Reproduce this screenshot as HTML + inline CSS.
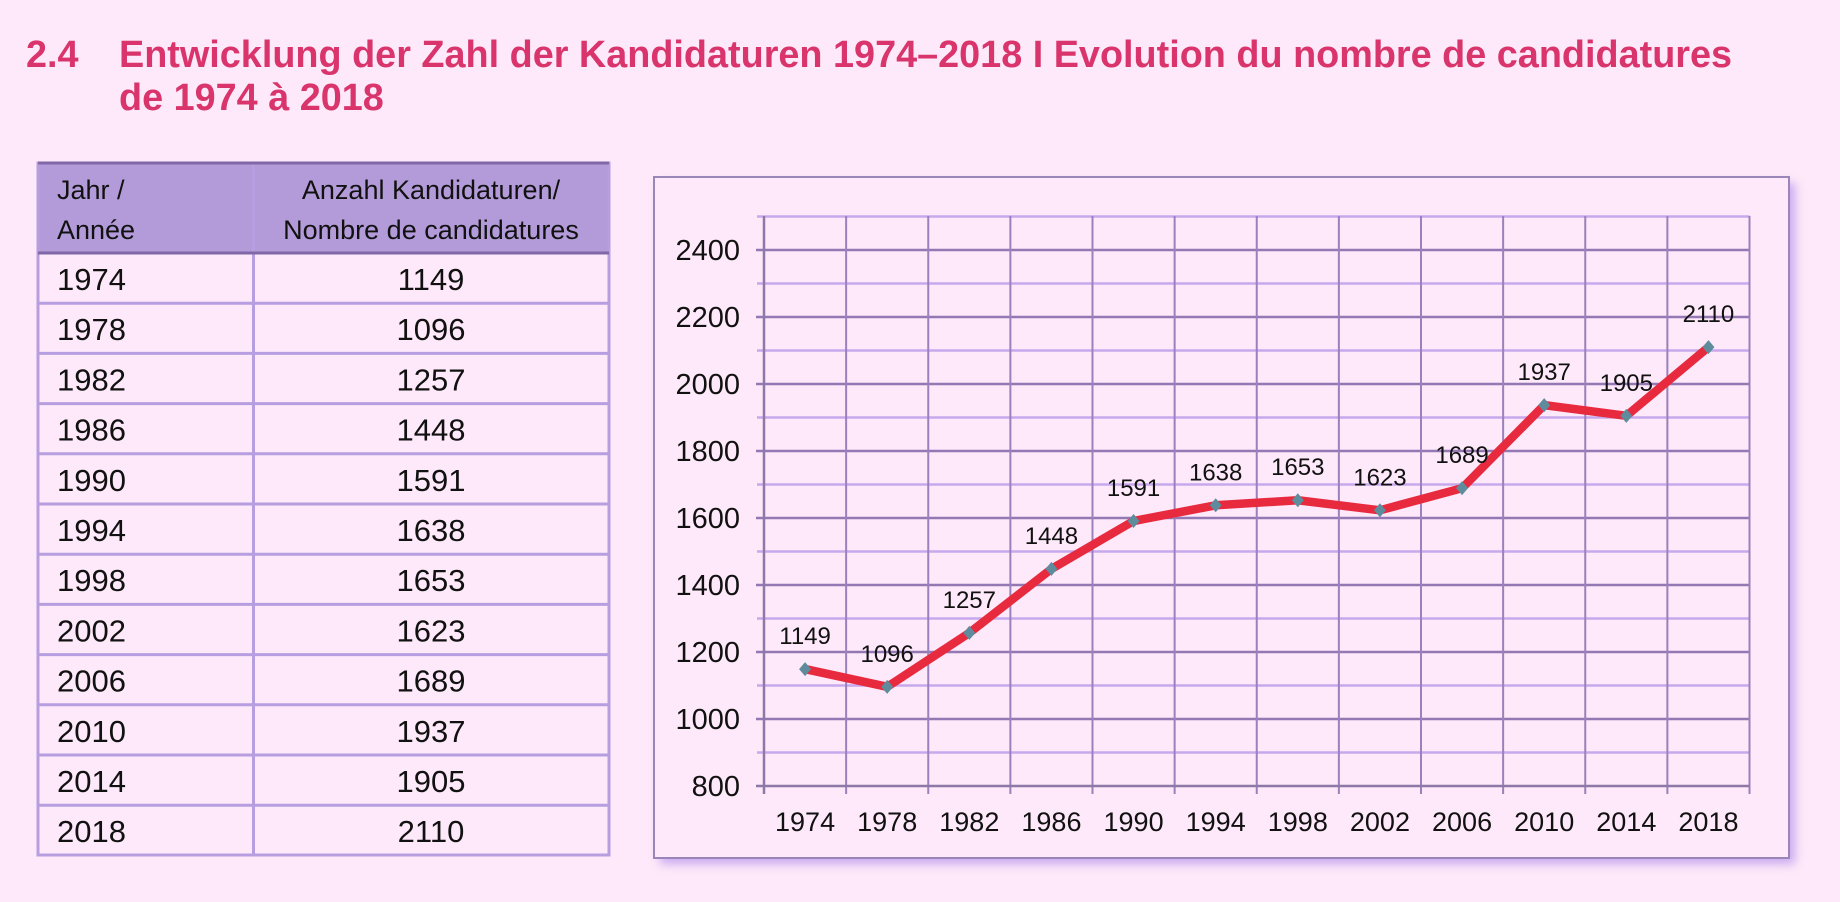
<!DOCTYPE html>
<html><head><meta charset="utf-8"><style>
html,body{margin:0;padding:0;background:#fde9f9;}
svg{display:block;font-family:"Liberation Sans",Arial,sans-serif;}
</style></head><body>
<svg width="1840" height="902" viewBox="0 0 1840 902" xmlns="http://www.w3.org/2000/svg">
<defs>
<filter id="sh" x="-5%" y="-5%" width="112%" height="112%"><feGaussianBlur stdDeviation="5"/></filter>
</defs>
<rect width="1840" height="902" fill="#fde9f9"/>
<g fill="#d9356c" font-weight="bold" font-size="37.8">
<text x="26" y="67">2.4</text>
<text x="119" y="67">Entwicklung der Zahl der Kandidaturen 1974–2018 I Evolution du nombre de candidatures</text>
<text x="119" y="110">de 1974 à 2018</text>
</g>
<rect x="38" y="163" width="571" height="90" fill="#b39bd9"/>
<g stroke="#b79ee0" stroke-width="3" fill="none">
<rect x="38" y="163" width="571" height="692"/>
<line x1="253.5" y1="163" x2="253.5" y2="855"/>
</g>
<g stroke="#8068a8" stroke-width="3"><line x1="38" y1="163" x2="609" y2="163"/><line x1="38" y1="253" x2="609" y2="253"/></g>
<g stroke="#b79ee0" stroke-width="3" id="rows"></g>
<g font-size="27" fill="#111">
<text x="57" y="199">Jahr /</text><text x="57" y="239">Année</text>
<text x="431" y="199" text-anchor="middle">Anzahl Kandidaturen/</text>
<text x="431" y="239" text-anchor="middle">Nombre de candidatures</text>
</g>
<g id="tbl" font-size="31" fill="#111"></g>
<rect x="660" y="183" width="1135" height="681" fill="#c9a8f0" filter="url(#sh)"/>
<rect x="654" y="177" width="1135" height="681" fill="#fde9f9" stroke="#9a86b8" stroke-width="2"/>
<g id="chart"></g>
</svg>
<script>
var years=[1974,1978,1982,1986,1990,1994,1998,2002,2006,2010,2014,2018];
var vals=[1149,1096,1257,1448,1591,1638,1653,1623,1689,1937,1905,2110];
var NS="http://www.w3.org/2000/svg";
function el(p,t,a,txt){var e=document.createElementNS(NS,t);for(var k in a)e.setAttribute(k,a[k]);if(txt!=null)e.textContent=txt;p.appendChild(e);return e;}
var rows=document.getElementById('rows'),tbl=document.getElementById('tbl');
for(var i=0;i<12;i++){var y=253+i*50.2;
 if(i>0)el(rows,'line',{x1:38,y1:y,x2:609,y2:y});
 el(tbl,'text',{x:57,y:y+37},years[i]);
 el(tbl,'text',{x:431,y:y+37,'text-anchor':'middle'},vals[i]);}
var c=document.getElementById('chart');
var L=764,R=1749.5,T=216,B=786,W=(R-L)/12;
function Y(v){return B-(v-800)*67/200;}
for(var v=900;v<=2500;v+=200)el(c,'line',{x1:L-7,y1:Y(v),x2:R,y2:Y(v),stroke:'#c6a8ec','stroke-width':2.5});
for(var v=1000;v<=2400;v+=200)el(c,'line',{x1:L-8,y1:Y(v),x2:R,y2:Y(v),stroke:'#9478b4','stroke-width':2.5});
for(var i=1;i<=12;i++)el(c,'line',{x1:L+W*i,y1:T,x2:L+W*i,y2:B+8,stroke:'#9a80bc','stroke-width':2});
el(c,'line',{x1:L,y1:T,x2:L,y2:B+8,stroke:'#8e78a8','stroke-width':2.5});
el(c,'line',{x1:L-8,y1:B,x2:R,y2:B,stroke:'#8e78a8','stroke-width':2.5});
for(var v=800;v<=2400;v+=200)el(c,'text',{x:740,y:Y(v)+10,'text-anchor':'end','font-size':29,fill:'#111'},v);
var pts=[];
for(var i=0;i<12;i++){var x=L+W*(i+0.5);pts.push(x+','+Y(vals[i]));
 el(c,'text',{x:x,y:831,'text-anchor':'middle','font-size':27,fill:'#111'},years[i]);}
el(c,'polyline',{points:pts.join(' '),fill:'none',stroke:'#e82a3e','stroke-width':8.5,'stroke-linejoin':'round'});
for(var i=0;i<12;i++){var x=L+W*(i+0.5),y=Y(vals[i]);
 el(c,'polygon',{points:(x)+','+(y-7)+' '+(x+6)+','+y+' '+x+','+(y+7)+' '+(x-6)+','+y,fill:'#5f8c9c'});
 el(c,'text',{x:x,y:y-25,'text-anchor':'middle','font-size':24,fill:'#111'},vals[i]);}
</script>
</body></html>
